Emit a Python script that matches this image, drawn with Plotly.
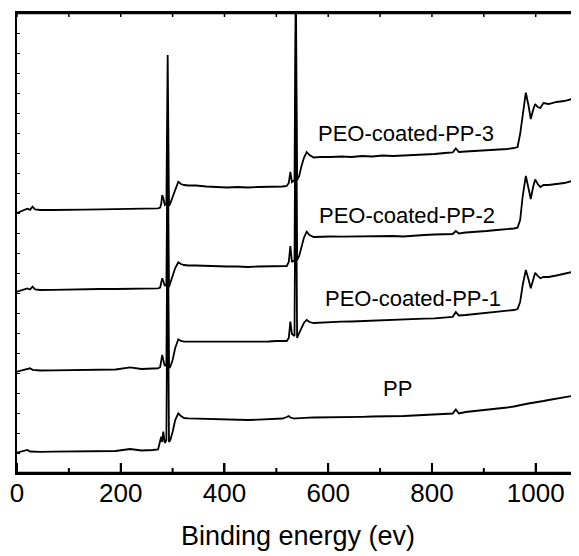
import plotly.graph_objects as go

# Binding energy grid (eV)
energy = [0, 10, 20, 25, 30, 35, 45, 70, 100, 130, 160, 190, 218, 240, 262, 272,
          276, 278, 280, 282, 285, 288, 290.5, 293, 295.5, 300, 305, 311, 316, 322,
          330, 345, 365, 385, 405, 425, 445, 465, 485, 500, 512, 520, 524, 527,
          530, 535, 537.5, 540, 544, 548, 553, 558.5, 564, 572, 585, 605, 625, 645,
          665, 685, 705, 725, 745, 765, 785, 805, 825, 840, 846, 852, 865, 885,
          905, 925, 945, 958, 965, 970, 975, 981, 986, 990.5, 995, 999, 1004, 1009,
          1015, 1025, 1040, 1055, 1070, 1083]

# Intensities (a.u., stacked with offsets as in the original figure)
pp = [20.3, 21.5, 23, 21.5, 21.3, 21.5, 21.2, 21.3, 21.5, 21.5, 21.7, 22, 24, 22.5, 23, 23.5,
      32, 36.3, 31, 41.3, 30, 33, 240, 31, 33, 41, 53, 59.7, 57, 55,
      54.7, 54.5, 54, 53.5, 53.5, 53, 53, 53.3, 53.5, 54, 54.5, 56, 57, 55.5,
      55, 54.5, 54.7, 54.7, 55, 55, 55, 55.2, 55.3, 55.5, 55.5, 55.7, 56, 56,
      56.2, 56.5, 56.5, 56.7, 57, 57.5, 58, 58.5, 59, 59.5, 63.5, 59.5, 61, 62,
      63, 64.3, 65.5, 66.5, 67.5, 68, 68.5, 69, 69.5, 70, 70.2, 70.3, 71, 71.5,
      72, 73, 74.5, 76, 77, 78]

peo1 = [101.3, 102.5, 103.5, 104.7, 103.2, 103, 102.5, 102.7, 103, 103, 103.2, 103.5, 105.7, 104, 104.5, 104.7,
        106, 111, 118, 113, 107, 109, 280, 105, 106.3, 113, 125, 133.7, 132, 131.3,
        131.3, 131.5, 131.5, 131, 131, 131.5, 131.3, 131.5, 131.5, 132, 132, 132, 135, 151.3,
        139, 137, 360, 135, 140, 145, 150, 153, 151, 150, 150.5, 151, 151.3, 151.5,
        152, 152, 152.5, 153, 153.5, 154, 154.3, 154.7, 155.5, 156, 161, 157.5, 158, 159,
        160, 161, 162, 163, 164, 171, 188, 203, 194, 184.7, 193, 200.3, 197, 194.7,
        196, 196, 197.5, 199, 201, 203]

peo2 = [181.3, 183, 184.5, 183.5, 186.3, 183.5, 183, 183.2, 183.7, 183.5, 184, 184, 184.2, 184.5, 184.5, 184.7,
        185.5, 189, 194.7, 192, 187, 189, 340, 186, 190, 196, 205, 210.7, 209, 208,
        207.5, 207.5, 207, 206.5, 206.5, 206.5, 206, 206.5, 206.5, 206.5, 206.5, 207, 211, 227,
        211, 213, 440, 213, 217, 226, 235, 241.3, 238, 236, 236.3, 236.5, 236.3, 236.5,
        237, 236.7, 237, 237, 236.5, 237.5, 238, 238.5, 239, 239, 242, 239.5, 240.5, 241,
        242, 243, 243.5, 244.5, 245.3, 253, 277, 297, 285, 274, 286, 293.5, 289, 286,
        288, 288, 289, 290, 292, 294]

peo3 = [260, 262.5, 264.3, 263.2, 266.3, 263.5, 263, 263, 263.5, 263.3, 263.7, 264, 264, 264.3, 264.5, 264.7,
        265.5, 269, 278, 275, 268, 269, 418, 267, 269.7, 276, 285, 291.3, 289, 288,
        287.5, 287.5, 286.5, 286, 285.5, 286, 285.5, 286, 286, 286.5, 286.5, 287, 290, 301,
        291, 293, 500, 293, 297, 306, 315, 321, 318, 315.5, 316, 316, 316.5, 316,
        317, 316.5, 317.5, 317, 317.5, 318, 318, 319, 320, 320.5, 324.5, 321, 321.5, 322,
        323, 323, 324, 325, 326, 339, 358, 380.3, 368, 354, 363, 369, 366, 365,
        370, 369, 371, 372, 374, 376]

series = [("PP", pp), ("PEO-coated-PP-1", peo1), ("PEO-coated-PP-2", peo2), ("PEO-coated-PP-3", peo3)]

# label positions (data coords)
label_text = ["PEO-coated-PP-3", "PEO-coated-PP-2", "PEO-coated-PP-1", "PP"]
label_x = [749, 752, 763, 733]
label_y = [340, 258, 175, 85]

# x-axis tick values
major_ticks = [0, 200, 400, 600, 800, 1000]
minor_ticks = [100, 300, 500, 700, 900]
top_ticks = [0, 100, 200, 300, 400, 500, 600, 700, 800, 900, 1000]

x_range = [0, 1083.5]
y_range = [0, 460]

fig = go.Figure()
for name, vals in series:
    fig.add_trace(go.Scatter(x=energy, y=vals, mode="lines", name=name,
                             line=dict(color="black", width=1.8), showlegend=False))

y0, y1 = y_range
# bottom / top frame edges (data-referenced shapes on the axes' scale)
for yy in (y0, y1):
    fig.add_shape(type="line", xref="x", yref="y", x0=x_range[0], x1=x_range[1], y0=yy, y1=yy,
                  line=dict(color="black", width=2.5), layer="above")
# x tick marks: major (bottom), minor (bottom), small ones along the top edge
for t in major_ticks:
    fig.add_shape(type="line", xref="x", yref="y", x0=t, x1=t, y0=y0, y1=y0 + 10,
                  line=dict(color="black", width=2), layer="above")
for t in minor_ticks:
    fig.add_shape(type="line", xref="x", yref="y", x0=t, x1=t, y0=y0, y1=y0 + 5,
                  line=dict(color="black", width=2), layer="above")
for t in top_ticks:
    fig.add_shape(type="line", xref="x", yref="y", x0=t, x1=t, y0=y1, y1=y1 - 4,
                  line=dict(color="black", width=1.5), layer="above")

for t, lx, ly in zip(label_text, label_x, label_y):
    fig.add_annotation(x=lx, y=ly, text=t, showarrow=False, xanchor="center", yanchor="middle",
                       font=dict(family="Liberation Sans, Arial, sans-serif", size=22, color="black"))

font = "Liberation Sans, Arial, sans-serif"
fig.update_layout(
    width=571, height=548,
    margin=dict(l=9, r=0, t=5, b=83),
    paper_bgcolor="white", plot_bgcolor="white",
    font=dict(family=font, color="black"),
    xaxis=dict(range=x_range, showline=True, mirror=True, linewidth=2, linecolor="black",
               automargin=False, ticks="inside", ticklen=10, tickwidth=2, tickcolor="black",
               tickvals=major_ticks,
               showgrid=False, zeroline=False, ticklabelstandoff=-4,
               tickfont=dict(size=26, family=font, color="black"),
               title=dict(text="Binding energy (ev)", font=dict(size=27, family=font, color="black"),
                          standoff=19)),
    yaxis=dict(range=y_range, showline=True, linewidth=2, linecolor="black", automargin=False,
               ticks="inside", ticklen=3, tickwidth=1, tickcolor="black", dtick=20, tick0=0,
               showticklabels=False, showgrid=False, zeroline=False),
)

fig.write_html("out.html")
